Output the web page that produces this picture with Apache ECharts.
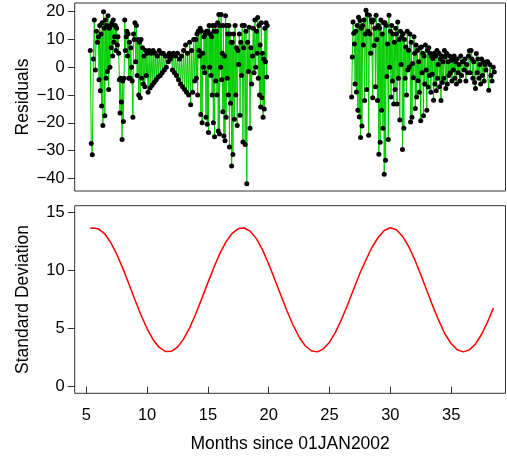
<!DOCTYPE html>
<html><head><meta charset="utf-8">
<script src="https://cdn.jsdelivr.net/npm/echarts@6/dist/echarts.min.js"></script>
<style>html,body{margin:0;padding:0;background:#fff}#c{width:507px;height:460px}</style>
</head><body><div id="c"></div>
<script>
// ---- data ----
const residualTicks = [-40, -30, -20, -10, 0, 10, 20];
const sdTicks = [0, 5, 10, 15];
const monthTicks = [5, 10, 15, 20, 25, 30, 35];

// residuals, first stretch: [fromMonth, toMonth, values in time order]
const residualsPart1 = [
  [5.33, 6.0, [6, -27.5, -31.5, 3, 17, -1, 13, 9]],
  [6.0, 7.0, [11, -4.5, 15, -8.5, 12, -14, 16, -21, 20, 14, -17.5, 17, -4, 15, -1.5, 18.5, -8, 14, 0]],
  [7.0, 8.0, [15, 7, 16, 4, 17, 9, 11, 15, 6, 14, 8, 11, 5, -4.5, -16.5, -4, -12.5, -26]],
  [8.0, 9.0, [-5, -19.5, -4, 17, 6, 11, 13, 4, 12, -4, 9, -4, 7, 0, -5, -18, 12, 10]],
  [9.0, 10.0, [16, 2, 15, -3, 10, -10, 9, -11, 10, -4, 7, -6, 4, -7, 6, -3]],
  [10.0, 11.0, [5, -9, 6, -7.5, 5, -6.5, 6, -5.5, 5, -4.5, 4, -3.5]],
  [11.0, 12.0, [6, -3, 5, -2, 5, -1, 4, 0, 4, 2, 5, 3]],
  [12.0, 13.0, [4, -1, 5, -2, 4, -3, 5, -4.5, 3, -6, 4, -7]],
  [13.0, 14.0, [6, -8, 8, -9, 5, -10, 9, -13.5, 6, -9, 10, -5]],
  [14.0, 15.0, [10, -4, 12, -10, 13, 6, 4, 14, -17, 13, -20, 5, 0, 11, -2, 12, -18, 13, -20.5]],
  [15.0, 16.0, [13, -23.5, 15, 0, 12, -3, 11, -10, 15, -20, 13, -25, 15, -5, 13, -10, 16, -23, 19, -24]],
  [16.0, 17.0, [15, 0, 19, -4.5, 5, -16, 15, -24.8, 4, -26.5, 18.5, -18, 15, -4, 12, -10, 15, -28.7, 12, -13, 9, -35.6]],
  [17.0, 18.0, [9, -31.4, 12, -18.7, 15, -10, 7, -21, 6, 1, 12, -17.3, 9, -3, 15, -26.9, 7]],
  [18.0, 19.0, [15, -27.8, 13, -42, 9, -1.5, 14.4, -22, 7, -6, 4, 14, -2, 17, 0]],
  [19.0, 19.88, [13, 5, 17.9, -4, 15, -10, 8, -14.3, 16, -11, 5, -18, 3, -15, 14, 2, 16, -3.5, 15]]
];

// residuals, second stretch
const residualsPart2 = [
  [26.82, 27.5, [-10.7, 3.7, 16.3, 12.2, 8.4, -6, 13, -8.9, 15, -15.5, 18, -17.9]],
  [27.5, 28.0, [16.8, -25.3, 14, -21.2, 15, 8, 17, -12, 12]],
  [28.0, 28.5, [20.5, -8, 19, 13, -24.5, 18.7, 12, 5, 17]],
  [28.5, 29.0, [16.3, -11, 17, 7.8, 14, -7, 18.7, 10, -12]],
  [29.0, 29.5, [15, -31.3, 14, -27, 17, -15.5, 12, -22, 16]],
  [29.5, 30.0, [-38.5, 16, -33.5, 15, -3.3, 8.4, -26, 18.7, 0]],
  [30.0, 30.5, [13, -10.7, 15, -5, 12, -13.2, 9, -8, 14]],
  [30.5, 31.0, [12, -13.2, 16.3, -4, 10, -19, 13, 1, 11]],
  [31.0, 31.5, [-29.6, 12.1, -22, 10, -4, 7.3, -10, 13, -1]],
  [31.5, 32.0, [6.1, 0.1, 12, -19.7, 9, -18, 1.3, -3.8, 11]],
  [32.0, 32.5, [5, -14.9, 8, -10.7, 6, -4.9, 2, -9, 7]],
  [32.5, 33.0, [-19.3, 7.3, -2, 5, -17.5, 4, -6, 8, -1]],
  [33.0, 33.5, [-15.5, 6, -7.1, 7, -3, 5, -9, 4, -2.5]],
  [33.5, 34.0, [3.1, -11.9, 5, -6, 4, -8.5, 6, -4, 1]],
  [34.0, 34.5, [5, -7, 3, -12, 4, -5.5, 2, -4, 6]],
  [34.5, 35.0, [3.7, -7.7, 5, -6, 2, -3, 4, -2]],
  [35.0, 35.5, [2.5, -5, 3, -1, 4, -4, 2, -6]],
  [35.5, 36.0, [3, -2, 1, -5, 4, -3, 2]],
  [36.0, 36.5, [2, -1, 3, -5, 1, -2, 4]],
  [36.5, 37.0, [5.9, -2, 6, 3, -4, 2, -5.5]],
  [37.0, 37.5, [-7.7, 4.9, -2, 3, -4, 1, -6]],
  [37.5, 38.0, [3, -3, 2, -5, 1, -1, 2]],
  [38.0, 38.55, [2, -8.3, 1, -3, -5, 0, -1.7]]
];

const sdMonths = [5.33, 5.5, 6, 6.5, 7, 7.5, 8, 8.5, 9, 9.5, 10, 10.5, 11, 11.5, 12, 12.5, 13, 13.5, 14, 14.5,
  15, 15.5, 16, 16.5, 17, 17.5, 18, 18.5, 19, 19.5, 20, 20.5, 21, 21.5, 22, 22.5, 23, 23.5, 24, 24.5,
  25, 25.5, 26, 26.5, 27, 27.5, 28, 28.5, 29, 29.5, 30, 30.5, 31, 31.5, 32, 32.5, 33, 33.5, 34, 34.5,
  35, 35.5, 36, 36.5, 37, 37.5, 38, 38.47];
const sdValues = [13.63, 13.68, 13.61, 13.20, 12.45, 11.44, 10.22, 8.88, 7.50, 6.18, 5.01, 4.05, 3.38, 3.04, 3.05, 3.41, 4.10, 5.07, 6.26, 7.59,
  8.97, 10.30, 11.51, 12.50, 13.22, 13.63, 13.68, 13.38, 12.74, 11.77, 10.57, 9.24, 7.88, 6.55, 5.32, 4.28, 3.53, 3.10, 3.00, 3.26,
  3.84, 4.70, 5.83, 7.09, 8.44, 9.78, 10.94, 12.02, 12.86, 13.46, 13.70, 13.52, 12.97, 12.10, 10.97, 9.67, 8.29, 6.92, 5.66, 4.52,
  3.72, 3.18, 3.00, 3.17, 3.68, 4.50, 5.58, 6.77];

// ---- build series points (spread each group's observations over its months) ----
function toPoints(groups) {
  const pts = [];
  groups.forEach((g, gi) => {
    const [a, b, vals] = g;
    const n = vals.length;
    const last = gi === groups.length - 1;
    vals.forEach((v, i) => {
      const t = last ? i / (n - 1) : i / n;
      pts.push([a + (b - a) * t, v]);
    });
  });
  return pts;
}
const part1 = toPoints(residualsPart1);
const part2 = toPoints(residualsPart2);
const sdData = sdMonths.map((m, i) => [m, sdValues[i]]);

const FONT = 'Liberation Sans, Arial, Helvetica, sans-serif';
const minus = v => String(v).replace('-', '\u2212');
const frame = '#333';

const residStyle = {
  type: 'line', xAxisIndex: 0, yAxisIndex: 0,
  symbol: 'circle', symbolSize: 5, showAllSymbol: true,
  itemStyle: { color: '#000' },
  lineStyle: { color: '#00CD00', width: 1 },
  silent: true, animation: false, emphasis: { disabled: true }
};

const chart = echarts.init(document.getElementById('c'), null, { renderer: 'canvas' });
chart.setOption({
  backgroundColor: '#fff',
  animation: false,
  textStyle: { fontFamily: FONT },
  grid: [
    { left: 74.7, top: 3, width: 430.8, height: 188, show: true, borderColor: frame, borderWidth: 1, backgroundColor: 'transparent' },
    { left: 74.7, top: 205.7, width: 430.8, height: 187.6, show: true, borderColor: frame, borderWidth: 1, backgroundColor: 'transparent' }
  ],
  xAxis: [
    { gridIndex: 0, type: 'value', min: 4.05, max: 39.47,
      axisLine: { show: false }, axisTick: { show: false }, axisLabel: { show: false }, splitLine: { show: false } },
    { gridIndex: 1, type: 'value', min: 4.05, max: 39.47,
      axisLine: { show: false },
      axisTick: { show: true, customValues: monthTicks, length: 7, lineStyle: { color: frame } },
      axisLabel: { customValues: monthTicks, fontSize: 16.5, color: '#000', margin: 14, fontFamily: FONT },
      splitLine: { show: false },
      name: 'Months since 01JAN2002', nameLocation: 'middle', nameGap: 42, nameMoveOverlap: false,
      nameTextStyle: { fontSize: 17.5, color: '#000', fontFamily: FONT } }
  ],
  yAxis: [
    { gridIndex: 0, type: 'value', min: -44.57, max: 23.13,
      axisLine: { show: false },
      axisTick: { show: true, customValues: residualTicks, length: 7, lineStyle: { color: frame } },
      axisLabel: { customValues: residualTicks, fontSize: 16.5, color: '#000', margin: 10, fontFamily: FONT, formatter: minus },
      splitLine: { show: false },
      name: 'Residuals', nameLocation: 'middle', nameRotate: 90, nameGap: 43, nameMoveOverlap: false,
      nameTextStyle: { fontSize: 17.5, color: '#000', fontFamily: FONT } },
    { gridIndex: 1, type: 'value', min: -0.57, max: 15.6,
      axisLine: { show: false },
      axisTick: { show: true, customValues: sdTicks, length: 7, lineStyle: { color: frame } },
      axisLabel: { customValues: sdTicks, fontSize: 16.5, color: '#000', margin: 10, fontFamily: FONT },
      splitLine: { show: false },
      name: 'Standard Deviation', nameLocation: 'middle', nameRotate: 90, nameGap: 43, nameMoveOverlap: false,
      nameTextStyle: { fontSize: 17.5, color: '#000', fontFamily: FONT } }
  ],
  series: [
    Object.assign({}, residStyle, { data: part1 }),
    Object.assign({}, residStyle, { data: part2 }),
    { type: 'line', xAxisIndex: 1, yAxisIndex: 1, data: sdData, showSymbol: false, smooth: false,
      lineStyle: { color: '#FF0000', width: 1.5 }, silent: true, animation: false, emphasis: { disabled: true } }
  ]
});
</script>
</body></html>
